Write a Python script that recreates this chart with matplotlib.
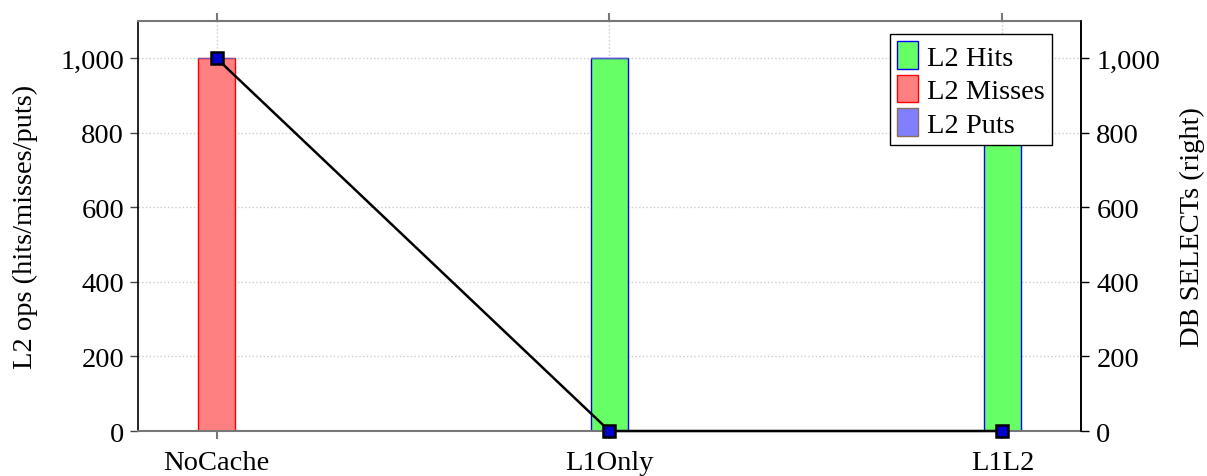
import matplotlib
matplotlib.use("Agg")
import matplotlib.pyplot as plt
from matplotlib.ticker import FuncFormatter, MultipleLocator
from matplotlib.patches import Patch
import numpy as np

plt.rcParams['font.family'] = ['Liberation Serif', 'DejaVu Serif']

categories = ["NoCache", "L1Only", "L1L2"]
l2_hits = [0, 1000, 1000]
l2_misses = [1000, 0, 0]
l2_puts = [0, 0, 0]
db_selects = [1000, 0, 0]

x = np.arange(len(categories))
w = 0.095
fs = 20.5

fig = plt.figure(figsize=(12.07, 4.77), dpi=100)
ax = fig.add_axes([0.1143, 0.0943, 0.7813, 0.8596])

hit_fc, hit_ec = "#66ff66", "#0000ff"
miss_fc, miss_ec = "#ff8080", "#ff0000"
put_fc, put_ec = "#8080ff", "#8b6e5a"

# stacked bars; zero-height segments keep a dashed outline like pgfplots
bottom = np.zeros(len(categories))
for vals, fc, ec in [(l2_hits, hit_fc, hit_ec), (l2_misses, miss_fc, miss_ec), (l2_puts, put_fc, put_ec)]:
    vals = np.array(vals, dtype=float)
    bars = ax.bar(x, vals, w, bottom=bottom, color=fc, edgecolor=ec, linewidth=1.0, zorder=2)
    for b, v in zip(bars, vals):
        if v == 0:
            b.set_linestyle((0, (3, 2)))
            b.set_edgecolor("#6060c0")
            b.set_linewidth(0.8)
    bottom += vals

ax.set_xlim(-0.2, 2.2)
ax.set_ylim(0, 1100)
ax.set_xticks(x)
ax.set_xticklabels(categories, fontsize=fs)
ax.yaxis.set_major_locator(MultipleLocator(200))
ax.yaxis.set_major_formatter(FuncFormatter(lambda v, p: f"{int(v):,}"))
ax.tick_params(axis='y', labelsize=fs, direction='out', length=6, color='#444444', width=1, pad=4)
ax.tick_params(axis='x', direction='out', length=6, color='#777777', width=1.5, top=True, pad=8)
ax.grid(True, which='major', linestyle=':', color='#cccccc', linewidth=1, zorder=0)
ax.set_axisbelow(True)
ax.set_ylabel("L2 ops (hits/misses/puts)", fontsize=fs, labelpad=16)

for side in ['top', 'bottom']:
    ax.spines[side].set_color('#777777')
    ax.spines[side].set_linewidth(1.5)
for side in ['left', 'right']:
    ax.spines[side].set_color('black')
    ax.spines[side].set_linewidth(1.2)

ax2 = ax.twinx()
ax2.set_ylim(0, 1100)
ax2.yaxis.set_major_locator(MultipleLocator(200))
ax2.yaxis.set_major_formatter(FuncFormatter(lambda v, p: f"{int(v):,}"))
ax2.tick_params(axis='y', labelsize=fs, direction='out', length=6, color='black', width=1, pad=5)
ax2.plot(x, db_selects, color='black', linewidth=1.8, marker='s', markersize=9,
         markerfacecolor='#0000cc', markeredgecolor='black', markeredgewidth=1.8, zorder=5,
         clip_on=False)
ax2.set_ylabel("DB SELECTs (right)", fontsize=fs, labelpad=14)
for side in ['top', 'bottom']:
    ax2.spines[side].set_visible(False)
ax2.spines['left'].set_visible(False)
ax2.spines['right'].set_color('black')
ax2.spines['right'].set_linewidth(1.2)

handles = [Patch(facecolor=hit_fc, edgecolor=hit_ec, label="L2 Hits"),
           Patch(facecolor=miss_fc, edgecolor=miss_ec, label="L2 Misses"),
           Patch(facecolor=put_fc, edgecolor=put_ec, label="L2 Puts")]
leg = ax2.legend(handles=handles, loc='upper right', bbox_to_anchor=(0.969, 0.968),
                 fontsize=fs, frameon=True, fancybox=False, framealpha=1,
                 edgecolor='black', handlelength=0.75, handleheight=1.1,
                 handletextpad=0.3, borderpad=0.25, labelspacing=0.15, borderaxespad=0)
leg.get_frame().set_linewidth(1.0)
leg.set_zorder(10)

fig.savefig("out.png", dpi=100)
